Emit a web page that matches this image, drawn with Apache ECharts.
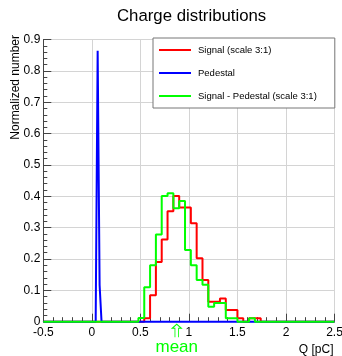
<!DOCTYPE html>
<html>
<head>
<meta charset="utf-8">
<script src="https://cdn.jsdelivr.net/npm/echarts@6/dist/echarts.min.js"></script>
<style>
  html, body { margin: 0; padding: 0; background: #ffffff; }
  #chart { width: 342px; height: 356px; }
</style>
</head>
<body>
<div id="chart"></div>
<script>
// Charge axis range [pC]
const qRange = [-0.5, 2.5];
const qInterval = 0.5;
const yRange = [0, 0.9];
const yInterval = 0.1;

// Series names as shown in the legend
const seriesNames = ['Signal (scale 3:1)', 'Pedestal', 'Signal - Pedestal (scale 3:1)'];

// Signal histogram (scaled 3:1): first bin edge, bin width, bin contents
const signalStart = 0.48;
const signalWidth = 0.06;
const signalValues = [0.000, 0.011, 0.084, 0.190, 0.262, 0.352, 0.401, 0.364, 0.364, 0.314,
                      0.202, 0.133, 0.064, 0.064, 0.074, 0.037, 0.037, 0.011, 0.000, 0.011, 0.011];

// Signal minus pedestal (scaled 3:1), same binning as the signal
const diffValues = [0.012, 0.110, 0.180, 0.278, 0.401, 0.410, 0.362, 0.385, 0.229, 0.180,
                    0.133, 0.118, 0.048, 0.060, 0.060, 0.011, 0.011, 0.000, 0.000, 0.011, 0.000];

// Pedestal histogram: narrow bins around zero charge
const pedestalStart = 0.04;
const pedestalWidth = 0.02;
const pedestalValues = [0.016, 0.864, 0.117];

// Mean charge of the subtracted distribution
const meanQ = 0.875;

const yTitle = 'Normalized number';
const FONT = 'Liberation Sans, Arial, Helvetica, sans-serif';

// Turn bin contents into outline points for a step line
function stepPoints(start, width, values) {
  const pts = [[qRange[0], 0]];
  values.forEach((v, i) => pts.push([+(start + i * width).toFixed(4), v]));
  pts.push([+(start + values.length * width).toFixed(4), 0]);
  pts.push([qRange[1], 0]);
  return pts;
}

function histSeries(name, color, data, z, extra) {
  return Object.assign({
    name: name,
    type: 'line',
    step: 'end',
    data: data,
    symbol: 'none',
    showSymbol: false,
    clip: false,
    z: z,
    animation: false,
    lineStyle: { color: color, width: 2 },
    itemStyle: { color: color },
    emphasis: { disabled: true }
  }, extra || {});
}

const chart = echarts.init(document.getElementById('chart'), null, { renderer: 'canvas' });

chart.setOption({
  backgroundColor: '#ffffff',
  animation: false,
  title: {
    text: 'Charge distributions',
    left: 112,
    top: 3,
    textStyle: { fontFamily: FONT, fontSize: 16.8, fontWeight: 'normal', color: '#000' }
  },
  // vertical axis title, reading upwards and ending at the top of the axis
  graphic: [{
    type: 'text',
    x: 15.5,
    y: 35,
    rotation: Math.PI / 2,
    silent: true,
    style: { text: yTitle, fontFamily: FONT, fontSize: 12, fill: '#000', align: 'right', verticalAlign: 'middle' }
  }],
  legend: {
    orient: 'vertical',
    left: 153,
    top: 38,
    padding: [6, 18, 6, 6],
    itemGap: 11,
    icon: 'rect',
    itemWidth: 32,
    itemHeight: 2,
    backgroundColor: '#ffffff',
    borderColor: '#777777',
    borderWidth: 1,
    borderRadius: 0,
    selectedMode: false,
    data: seriesNames,
    textStyle: { fontFamily: FONT, fontSize: 9.5, lineHeight: 12, color: '#000', padding: [0, 0, 0, 2] }
  },
  grid: {
    left: 43.3,
    right: 7.5,
    top: 39.5,
    bottom: 34.3,
    containLabel: false,
    outerBoundsMode: 'none'
  },
  xAxis: {
    type: 'value',
    min: qRange[0],
    max: qRange[1],
    interval: qInterval,
    name: 'Q [pC]',
    nameLocation: 'end',
    nameGap: -1,
    nameTextStyle: { fontFamily: FONT, fontSize: 12, color: '#000', align: 'right', verticalAlign: 'top', padding: [22, 0, 0, 0] },
    axisLine: { show: true, onZero: false, lineStyle: { color: '#444', width: 1 } },
    axisTick: { show: true, inside: true, length: 8, lineStyle: { color: '#444' } },
    minorTick: { show: true, splitNumber: 5, length: 4.5, lineStyle: { color: '#444' } },
    axisLabel: { fontFamily: FONT, fontSize: 12, color: '#000', margin: 4.5 },
    splitLine: { show: true, lineStyle: { color: '#d4d4d4', width: 1 } }
  },
  yAxis: {
    type: 'value',
    min: yRange[0],
    max: yRange[1],
    interval: yInterval,
    axisLine: { show: true, onZero: false, lineStyle: { color: '#444', width: 1 } },
    axisTick: { show: true, inside: true, length: 8, lineStyle: { color: '#444' } },
    minorTick: { show: true, splitNumber: 5, length: 4, lineStyle: { color: '#444' } },
    axisLabel: { fontFamily: FONT, fontSize: 12, color: '#000', margin: 3 },
    splitLine: { show: true, lineStyle: { color: '#d4d4d4', width: 1 } }
  },
  series: [
    histSeries(seriesNames[0], '#ff0000', stepPoints(signalStart, signalWidth, signalValues), 3),
    histSeries(seriesNames[1], '#0000ff', stepPoints(pedestalStart, pedestalWidth, pedestalValues), 4),
    histSeries(seriesNames[2], '#00ff00', stepPoints(signalStart, signalWidth, diffValues), 5, {
      markPoint: {
        silent: true,
        animation: false,
        symbol: 'path://M3,16 L3,5 L0,5 L5,0 L10,5 L7,5 L7,16',
        symbolSize: [9, 13],
        symbolKeepAspect: false,
        symbolOffset: [0, 9],
        itemStyle: { color: 'rgba(0,0,0,0)', borderColor: '#00ff00', borderWidth: 1 },
        label: {
          show: true,
          position: 'bottom',
          distance: 1,
          formatter: 'mean',
          color: '#00ff00',
          fontFamily: FONT,
          fontSize: 17
        },
        data: [{ coord: [meanQ, 0] }]
      }
    })
  ]
});
</script>
</body>
</html>
